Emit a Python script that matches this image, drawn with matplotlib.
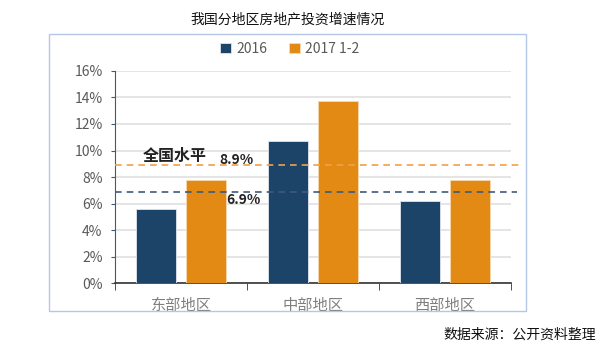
import matplotlib.pyplot as plt
import numpy as np
from matplotlib.patches import Rectangle

plt.rcParams['font.family'] = ['Noto Sans CJK SC', 'DejaVu Sans']

regions = ['东部地区', '中部地区', '西部地区']
growth_2016 = [5.6, 10.7, 6.2]
growth_2017 = [7.8, 13.7, 7.8]
series_names = ['2016', '2017 1-2']
national_2016 = 6.9
national_2017 = 8.9

navy = '#1c4468'
orange = '#e38a15'

fig = plt.figure(figsize=(5.99, 3.49), dpi=100)
fig.patches.append(Rectangle((0.082, 0.109), 0.796, 0.794, transform=fig.transFigure,
                             fill=False, edgecolor='#b4c7e7', linewidth=1.0))

ax = fig.add_axes([0.192, 0.188, 0.661, 0.609])
x = np.arange(len(regions))
w = 0.30
ax.bar(x - 0.19, growth_2016, w, color=navy, edgecolor='#dfe6ee', linewidth=0.6,
       label=series_names[0], zorder=3)
ax.bar(x + 0.19, growth_2017, w, color=orange, edgecolor='#f7d9b0', linewidth=0.6,
       label=series_names[1], zorder=3)

ax.plot([0, 1.02], [national_2017] * 2, transform=ax.get_yaxis_transform(),
        color='#f0a04a', linestyle=(0, (4, 3)), linewidth=1.2, clip_on=False, zorder=4)
ax.plot([0, 1.015], [national_2016] * 2, transform=ax.get_yaxis_transform(),
        color='#3e5b7c', linestyle=(0, (4, 3)), linewidth=1.2, clip_on=False, zorder=4)

ax.text(-0.29, 9.57, '全国水平', fontsize=11.5, fontweight='bold', color='#222222', va='center')
ax.text(0.288, 9.27, '8.9%', fontsize=10, fontweight='bold', color='#222222', va='center')
ax.text(0.34, 6.3, '6.9%', fontsize=10, fontweight='bold', color='#222222', va='center')

ax.set_xlim(-0.5, 2.5)
ax.set_ylim(0, 16)
ax.set_yticks(np.arange(0, 17, 2))
ax.set_yticklabels([f'{v}%' for v in range(0, 17, 2)], fontsize=10, color='#595959')
ax.set_xticks(x)
ax.set_xticklabels(regions, fontsize=11, color='#7f7f7f')
ax.set_xticks([-0.5, 0.5, 1.5, 2.5], minor=True)
ax.tick_params(axis='x', which='major', length=0, pad=10)
ax.tick_params(axis='x', which='minor', length=5, direction='out', color='#333333')
ax.tick_params(axis='y', length=3, direction='out', color='#3e5b7c', pad=6)

ax.grid(axis='y', color='#e0e0e0', linewidth=1.2, zorder=0)
ax.set_axisbelow(True)
for s in ['top', 'right']:
    ax.spines[s].set_visible(False)
ax.spines['left'].set_color('#3e5b7c')
ax.spines['bottom'].set_color('#333333')
ax.spines['bottom'].set_linewidth(1.2)

fig.legend(loc='center', bbox_to_anchor=(0.484, 0.86), ncol=2, frameon=False,
           fontsize=10, handlelength=0.8, handleheight=0.8, columnspacing=1.5,
           handletextpad=0.4, labelcolor='#595959')

fig.text(0.48, 0.945, '我国分地区房地产投资增速情况', ha='center', va='center',
         fontsize=10, color='#111111')
fig.text(0.995, 0.04, '数据来源：公开资料整理', ha='right', va='center',
         fontsize=10, color='#111111')

fig.savefig('out.png', dpi=100)
